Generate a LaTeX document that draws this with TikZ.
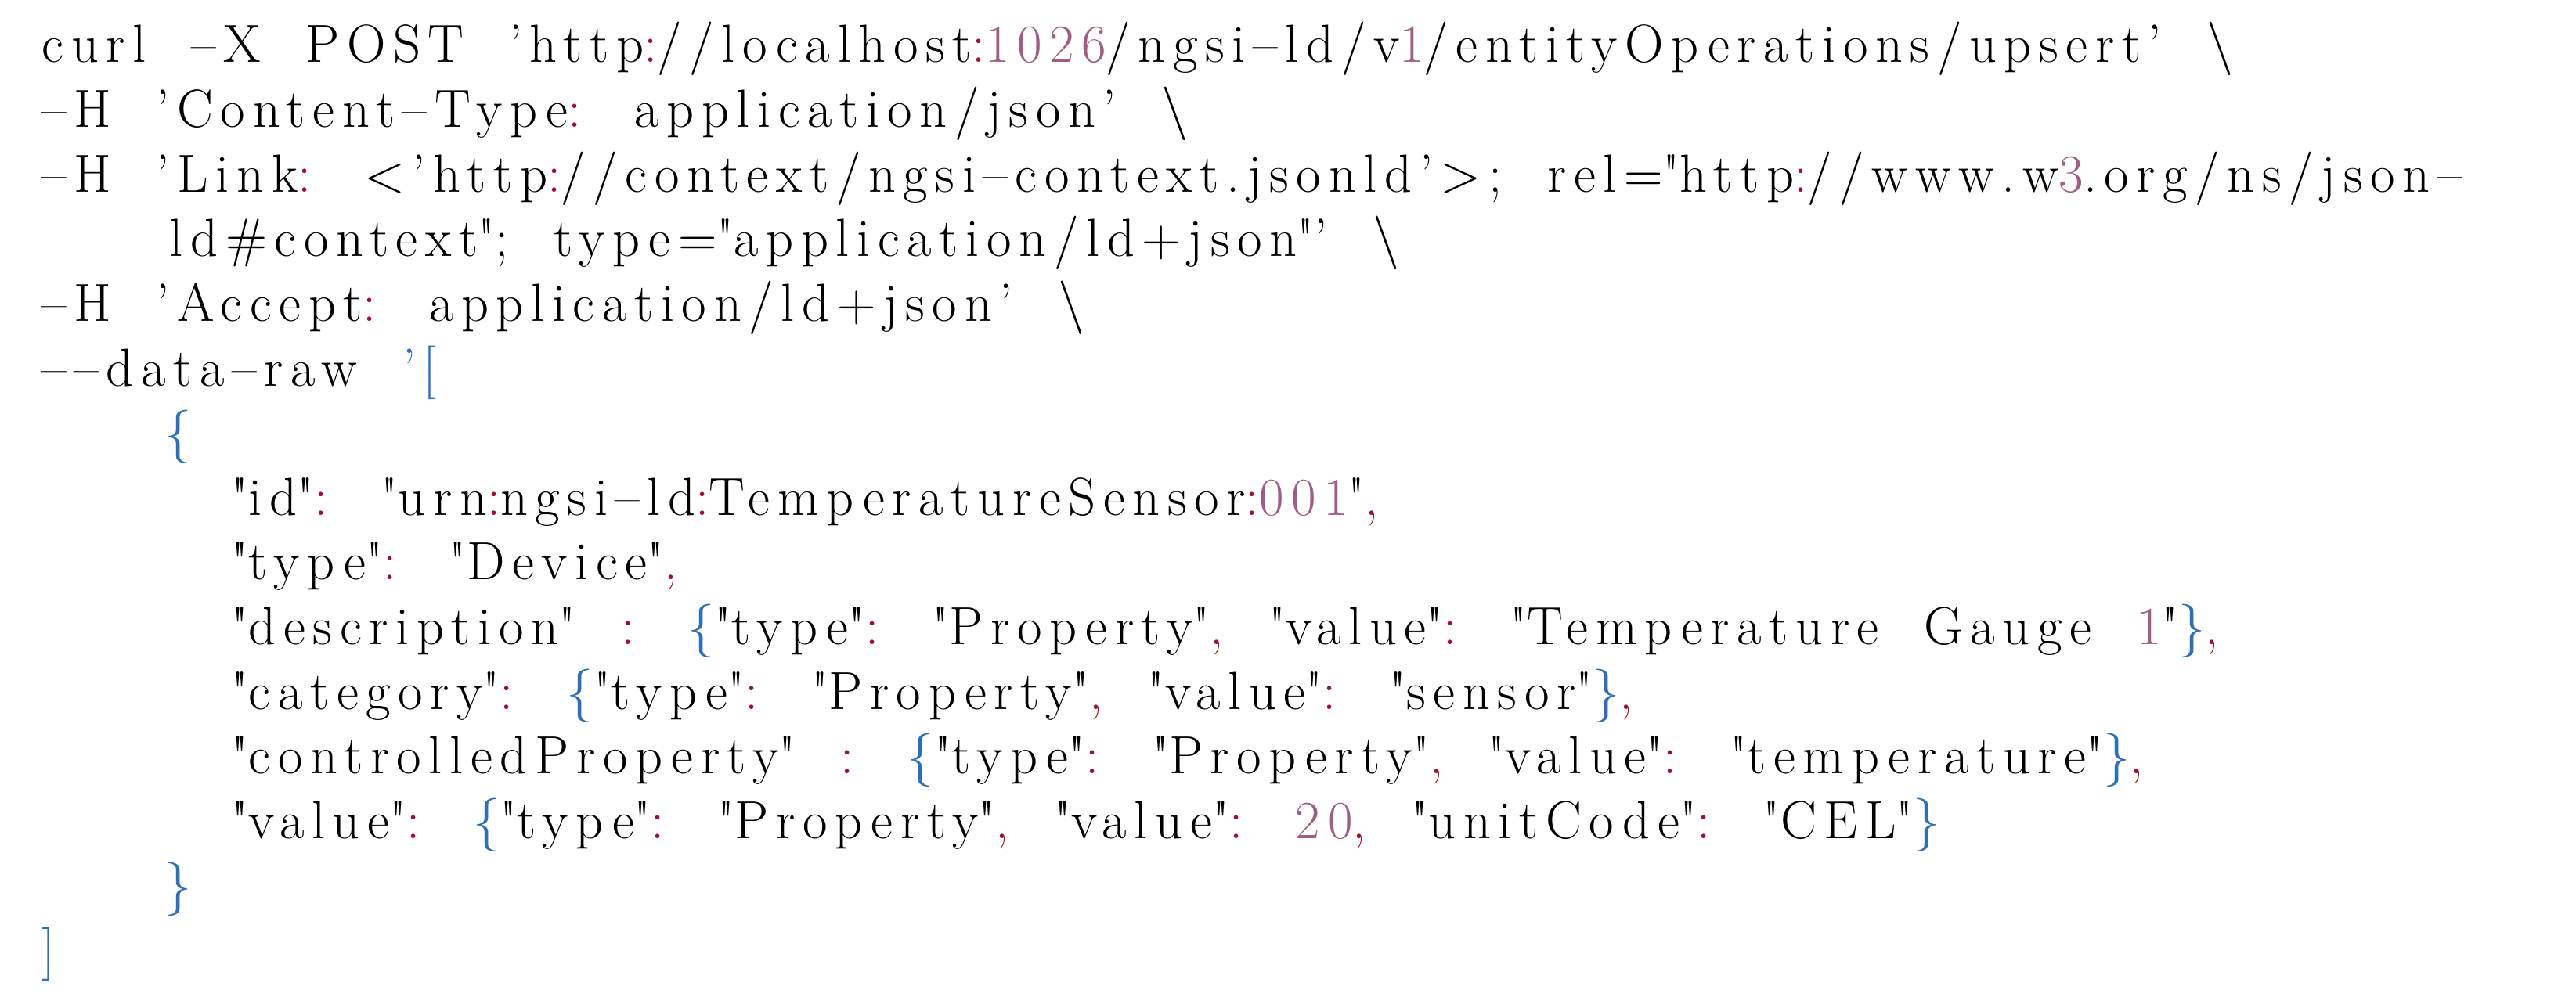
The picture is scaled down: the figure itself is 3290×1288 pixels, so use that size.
\documentclass[tikz,border=0pt]{standalone}
\usepackage{fontspec}
\setmainfont{Latin Modern Roman}[LetterSpace=14,WordSpace=1.9]
\definecolor{pr}{HTML}{A0102A}
\definecolor{bl}{HTML}{2F6FB5}
\definecolor{mv}{HTML}{A25E82}
\newcommand{\Cc}{\textcolor{pr}{:}}
\newcommand{\Cm}{\textcolor{pr}{,}}
\newcommand{\Nm}[1]{\textcolor{mv}{#1}}
\newcommand{\Bl}[1]{\textcolor{bl}{#1}}
\newcommand{\Q}{\textquotedbl}
\newcommand{\Mn}{\textendash}
\tikzset{ln/.style={anchor=base west,inner sep=0pt,font=\fontsize{19.5}{22}\selectfont}}
\begin{document}
\begin{tikzpicture}[x=0.01cm,y=-0.01cm]
\useasboundingbox (0,0) rectangle (3290,1288);
\def\B#1{80+82.6*#1}
\node[ln] (l1) at (53,{\B0}) {curl \Mn X POST ’http\Cc//localhost\Cc\Nm{1026}/ngsi\Mn ld/v\Nm{1}/entityOperations/upsert’ \textbackslash};
\node[ln] (l2) at (53,{\B1}) {\Mn H ’Content\Mn Type\Cc{} application/json’ \textbackslash};
\node[ln] (l3) at (53,{\B2}) {\Mn H ’Link\Cc{} <’http\Cc//context/ngsi\Mn context.jsonld’>; rel=\Q http\Cc//www.w\Nm{3}.org/ns/json\Mn};
\node[ln] (l4) at (216,{\B3}) {ld\#context\Q; type=\Q application/ld+json\Q’ \textbackslash};
\node[ln] (l5) at (53,{\B4}) {\Mn H ’Accept\Cc{} application/ld+json’ \textbackslash};
\node[ln] (l6) at (53,{\B5}) {\Mn\Mn data\Mn raw \Bl{’[}};
\node[ln] (l7) at (210,{\B6}) {\Bl{\{}};
\node[ln] (l8) at (295,{\B7}) {\Q id\Q\Cc{} \Q urn\Cc ngsi\Mn ld\Cc TemperatureSensor\Cc\Nm{001}\Q\Cm};
\node[ln] (l9) at (295,{\B8}) {\Q type\Q\Cc{} \Q Device\Q\Cm};
\node[ln] (l10) at (295,{\B9}) {\Q description\Q{} \Cc{} \Bl{\{}\Q type\Q\Cc{} \Q Property\Q\Cm{} \Q value\Q\Cc{} \Q Temperature Gauge \Nm{1}\Q\Bl{\}}\Cm};
\node[ln] (l11) at (295,{\B{10}}) {\Q category\Q\Cc{} \Bl{\{}\Q type\Q\Cc{} \Q Property\Q\Cm{} \Q value\Q\Cc{} \Q sensor\Q\Bl{\}}\Cm};
\node[ln] (l12) at (295,{\B{11}}) {\Q controlledProperty\Q{} \Cc{} \Bl{\{}\Q type\Q\Cc{} \Q Property\Q\Cm{} \Q value\Q\Cc{} \Q temperature\Q\Bl{\}}\Cm};
\node[ln] (l13) at (295,{\B{12}}) {\Q value\Q\Cc{} \Bl{\{}\Q type\Q\Cc{} \Q Property\Q\Cm{} \Q value\Q\Cc{} \Nm{20}\Cm{} \Q unitCode\Q\Cc{} \Q CEL\Q\Bl{\}}};
\node[ln] (l14) at (210,{\B{13}}) {\Bl{\}}};
\node[ln] (l15) at (53,{\B{14}}) {\Bl{]}};
\end{tikzpicture}
\end{document}
